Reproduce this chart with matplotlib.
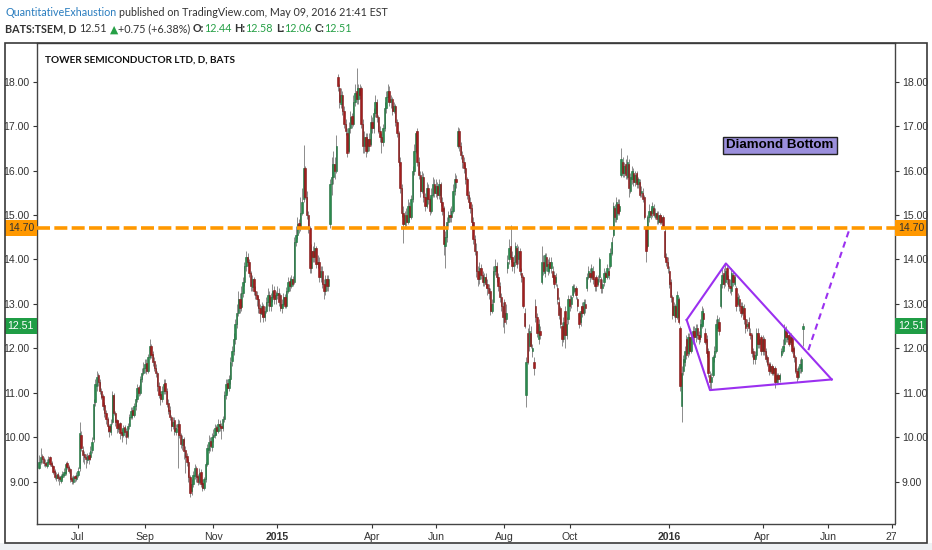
import matplotlib
matplotlib.use("Agg")
import matplotlib.pyplot as plt
import numpy as np
from matplotlib.patches import Rectangle
from matplotlib.transforms import blended_transform_factory

# BATS:TSEM daily candles, 27 May 2014 .. 09 May 2016 (one line per month)
opens = [
    9.30, 9.45, 9.58, 9.50,
    9.42, 9.36, 9.45, 9.55, 9.42, 9.35, 9.25, 9.08, 9.18, 9.10, 9.02, 9.10, 9.16, 9.20, 9.42, 9.34, 9.28, 9.08, 9.00, 9.12, 9.06,
    9.15, 9.30, 10.05, 9.72, 9.62, 9.55, 9.48, 9.60, 9.55, 9.72, 9.95, 10.80, 11.15, 11.40, 11.25, 11.05, 10.92, 10.72, 10.55, 10.40, 10.25, 10.12,
    10.35, 10.95, 10.55, 10.38, 10.18, 10.32, 10.12, 10.05, 10.22, 10.15, 10.02, 10.25, 10.45, 10.62, 10.50, 10.70, 10.85, 11.12, 11.00, 11.30, 11.45,
    11.55, 11.68, 11.50, 11.80, 12.05, 11.88, 11.72, 11.55, 11.45, 11.15, 10.98, 10.85, 11.05, 11.22, 11.05, 10.78, 10.62, 10.45, 10.25, 10.38, 10.12,
    10.22, 10.30, 10.05, 9.82, 9.95, 9.72, 9.58, 9.45, 9.10, 8.78, 8.95, 9.12, 9.30, 9.12, 9.00, 9.22, 8.98, 8.85, 9.05, 9.40, 9.72, 9.92, 9.78,
    10.00, 10.05, 10.22, 10.15, 10.30, 10.25, 10.20, 10.40, 10.95, 11.22, 11.10, 11.30, 11.72, 11.95, 12.20, 12.55, 12.80, 13.10, 12.92,
    13.25, 13.50, 13.85, 14.05, 13.95, 13.70, 13.38, 13.55, 13.30, 13.20, 13.10, 12.90, 12.78, 12.95, 12.70, 12.85, 13.05, 13.20, 12.95, 13.15, 13.32, 13.10,
    13.20, 13.25, 13.20, 12.90, 13.00, 13.15, 12.95, 13.30, 13.52, 13.40, 13.55, 13.50, 14.40, 14.55, 14.82, 14.70, 15.05, 15.35, 16.05, 15.40,
    15.00, 14.70, 13.80, 14.20, 14.05, 14.25, 13.90, 13.95, 13.60, 13.75, 13.45, 13.30, 13.55, 13.40, 14.80, 15.70, 15.85, 16.15, 16.00,
    18.10, 17.85, 17.50, 17.70, 17.35, 17.05, 16.85, 16.45, 16.95, 17.22, 17.05, 17.55, 17.78, 17.60, 17.85, 17.85, 17.05, 16.55, 16.75, 16.45, 16.72, 16.60,
    17.10, 16.95, 17.30, 17.55, 17.20, 16.90, 16.75, 16.65, 16.95, 17.40, 17.65, 17.80, 17.55, 17.60, 17.35, 17.45, 17.10, 16.85, 16.20, 15.60, 15.05,
    14.80, 15.00, 14.85, 15.20, 14.95, 15.35, 16.00, 16.45, 16.90, 16.20, 15.90, 15.55, 15.85, 15.40, 15.20, 15.60, 15.35, 15.10, 15.45, 15.70,
    15.50, 15.65, 15.45, 15.70, 15.30, 15.15, 14.30, 14.50, 14.85, 15.00, 14.95, 15.10, 15.55, 15.80, 16.55, 16.90, 16.55, 16.35, 16.20, 16.05, 15.80, 15.45,
    15.30, 15.15, 14.85, 14.45, 14.20, 13.75, 13.55, 13.80, 13.65, 13.50, 13.60, 13.45, 13.35, 13.30, 12.85, 13.05, 13.75, 13.85, 13.60, 13.40, 13.15, 12.95,
    13.05, 12.65, 13.80, 14.00, 14.30, 14.05, 13.85, 13.95, 14.25, 14.00, 14.20, 13.70, 13.60, 12.80, 10.95, 12.35, 12.05, 12.35, 11.95, 11.70, 12.95,
    12.70, 12.20, 12.40, 13.50, 13.95, 13.70, 14.05, 13.75, 13.95, 13.80, 13.75, 13.65, 13.50, 13.35, 13.05, 12.90, 12.50, 12.20, 12.85, 12.30, 12.65,
    13.10, 13.00, 13.20, 13.30, 13.35, 13.10, 12.80, 12.60, 12.95, 12.80, 13.00, 13.35, 13.60, 13.70, 13.60, 13.75, 13.55, 13.60, 13.45, 13.60, 13.55, 13.35,
    13.50, 13.70, 13.60, 13.75, 13.85, 14.15, 14.55, 15.15, 14.90, 15.25, 15.10, 15.90, 16.20, 15.95, 16.15, 15.85, 16.15, 15.55, 15.80, 15.95,
    15.75, 15.95, 15.70, 15.75, 15.50, 15.50, 15.40, 14.70, 14.30, 14.95, 15.10, 15.05, 15.15, 14.95, 15.05, 14.85, 15.00, 14.85, 14.95, 14.65, 14.05, 13.95,
    13.75, 13.50, 13.15, 12.75, 12.95, 12.70, 13.10, 12.45, 10.70, 11.50, 11.70, 12.20, 11.90, 12.25, 11.95, 12.20, 12.40, 12.25, 12.45,
    12.30, 12.25, 12.50, 12.80, 12.35, 12.20, 11.95, 11.40, 11.25, 11.40, 11.80, 11.95, 12.45, 12.60, 12.95, 13.45, 13.70, 13.50, 13.80, 13.55,
    13.40, 13.30, 13.65, 13.45, 13.35, 13.00, 13.10, 12.95, 12.80, 12.90, 12.65, 12.50, 12.60, 12.35, 12.30, 11.95, 11.75, 11.85, 12.35, 12.10, 12.25,
    11.95, 12.20, 11.95, 11.80, 11.65, 11.50, 11.60, 11.45, 11.55, 11.25, 11.40, 11.30, 11.85, 11.95, 12.10, 12.40, 12.20, 12.30, 12.15, 12.25, 12.00,
    11.80, 11.50, 11.35, 11.55, 11.50, 12.44,
]
highs = [
    9.60, 9.75, 9.62, 9.55,
    9.50, 9.50, 9.58, 9.58, 9.46, 9.38, 9.28, 9.22, 9.22, 9.14, 9.18, 9.24, 9.30, 9.45, 9.46, 9.38, 9.30, 9.12, 9.15, 9.16, 9.22,
    9.32, 10.35, 10.15, 9.80, 9.70, 9.62, 9.65, 9.66, 9.80, 10.00, 10.85, 11.30, 11.50, 11.45, 11.30, 11.10, 10.98, 10.80, 10.62, 10.45, 10.30, 10.40,
    11.05, 11.00, 10.60, 10.42, 10.38, 10.35, 10.18, 10.28, 10.28, 10.20, 10.32, 10.52, 10.68, 10.68, 10.78, 10.95, 11.20, 11.18, 11.38, 11.55, 11.70,
    11.75, 11.75, 11.88, 12.20, 12.10, 11.95, 11.80, 11.65, 11.50, 11.25, 11.05, 11.15, 11.32, 11.30, 11.10, 10.85, 10.70, 10.50, 10.45, 10.45, 10.30,
    10.40, 10.38, 10.10, 10.05, 10.00, 9.80, 9.65, 9.50, 9.15, 9.05, 9.25, 9.40, 9.35, 9.18, 9.30, 9.28, 9.05, 9.10, 9.45, 9.85, 10.05, 10.00, 10.10,
    10.18, 10.30, 10.28, 10.40, 10.38, 10.32, 10.48, 11.05, 11.30, 11.30, 11.40, 11.80, 12.05, 12.35, 12.65, 13.00, 13.30, 13.25, 13.40,
    13.60, 13.95, 14.20, 14.15, 14.00, 13.75, 13.65, 13.60, 13.40, 13.30, 13.18, 13.00, 13.05, 13.00, 12.95, 13.15, 13.35, 13.30, 13.25, 13.45, 13.40, 13.30,
    13.40, 13.35, 13.25, 13.12, 13.25, 13.22, 13.38, 13.60, 13.60, 13.65, 13.62, 14.50, 14.75, 14.95, 14.90, 15.40, 15.60, 16.57, 16.10, 15.55,
    15.10, 14.75, 14.35, 14.30, 14.40, 14.30, 14.10, 14.05, 13.85, 13.85, 13.55, 13.65, 13.65, 13.65, 15.80, 16.30, 16.45, 16.30, 16.80,
    18.17, 17.95, 17.85, 17.80, 17.45, 17.15, 16.95, 17.10, 17.35, 17.30, 17.70, 17.95, 18.30, 17.95, 17.95, 17.90, 17.15, 16.90, 16.85, 16.85, 16.85, 17.25,
    17.20, 17.40, 17.70, 17.60, 17.25, 17.00, 16.85, 17.05, 17.55, 17.80, 17.95, 17.90, 17.70, 17.65, 17.55, 17.50, 17.15, 16.90, 16.30, 15.70, 15.20,
    15.10, 15.15, 15.35, 15.30, 15.45, 16.10, 16.60, 16.90, 16.95, 16.30, 16.00, 16.00, 15.95, 15.50, 15.75, 15.70, 15.40, 15.60, 15.85, 15.80,
    15.80, 15.75, 15.80, 15.75, 15.40, 15.20, 14.65, 14.95, 15.10, 15.15, 15.20, 15.70, 15.95, 15.90, 16.97, 16.95, 16.65, 16.45, 16.30, 16.15, 15.85, 15.55,
    15.40, 15.25, 14.95, 14.55, 14.37, 13.85, 13.95, 13.90, 13.75, 13.70, 13.70, 13.55, 13.45, 13.35, 13.10, 13.85, 14.00, 13.95, 13.70, 13.50, 13.25, 13.05,
    13.10, 13.00, 14.10, 14.45, 14.78, 14.20, 14.10, 14.40, 14.35, 14.30, 14.25, 13.80, 13.65, 12.90, 11.80, 12.45, 12.55, 12.50, 12.10, 11.80, 13.10,
    12.80, 12.65, 12.50, 14.30, 14.10, 14.15, 14.15, 14.00, 14.05, 14.05, 13.85, 13.75, 13.70, 13.45, 13.15, 12.95, 12.60, 12.70, 12.95, 12.70, 13.20,
    13.20, 13.20, 13.45, 13.45, 13.40, 13.15, 12.85, 12.95, 13.05, 13.10, 13.10, 13.70, 13.85, 13.80, 13.90, 13.85, 13.60, 13.65, 13.65, 14.05, 13.60, 13.55,
    13.80, 13.75, 13.90, 13.85, 14.25, 14.50, 15.30, 15.25, 15.40, 15.35, 15.35, 16.50, 16.30, 16.20, 16.25, 16.35, 16.25, 15.95, 16.10, 16.05,
    16.00, 16.00, 15.85, 15.80, 15.65, 15.60, 15.45, 14.75, 15.00, 15.25, 15.15, 15.30, 15.25, 15.15, 15.10, 15.10, 15.05, 15.00, 15.00, 14.70, 14.15, 14.05,
    13.85, 13.55, 13.20, 13.05, 13.00, 13.30, 13.15, 12.50, 11.60, 11.85, 12.05, 12.30, 12.35, 12.35, 12.35, 12.50, 12.50, 12.55, 12.55,
    12.40, 12.65, 12.95, 12.90, 12.45, 12.30, 12.00, 11.50, 11.45, 11.85, 12.05, 12.65, 12.75, 12.70, 13.55, 13.80, 13.80, 13.92, 13.85, 13.65,
    13.55, 13.80, 13.75, 13.70, 13.40, 13.25, 13.20, 13.05, 13.05, 13.00, 12.75, 12.65, 12.70, 12.45, 12.35, 12.00, 11.95, 12.45, 12.45, 12.30, 12.30,
    12.30, 12.25, 12.00, 11.85, 11.70, 11.70, 11.65, 11.60, 11.60, 11.45, 11.45, 11.45, 12.00, 12.20, 12.55, 12.50, 12.40, 12.35, 12.35, 12.30, 12.05,
    11.85, 11.55, 11.60, 11.75, 11.80, 12.58,
]
lows = [
    9.28, 9.40, 9.42, 9.35,
    9.32, 9.30, 9.40, 9.36, 9.30, 9.18, 9.05, 9.02, 9.02, 8.92, 8.98, 9.05, 9.10, 9.15, 9.28, 9.20, 9.00, 8.95, 8.95, 9.00, 9.02,
    9.10, 9.25, 9.70, 9.45, 9.40, 9.30, 9.42, 9.40, 9.48, 9.65, 9.90, 10.70, 11.05, 11.15, 10.98, 10.85, 10.62, 10.45, 10.30, 10.12, 10.00, 10.05,
    10.30, 10.50, 10.25, 10.10, 10.12, 9.95, 9.90, 10.00, 10.00, 9.85, 9.98, 10.18, 10.40, 10.40, 10.45, 10.62, 10.80, 10.92, 10.95, 11.25, 11.40,
    11.45, 11.42, 11.45, 11.75, 11.78, 11.60, 11.48, 11.35, 11.05, 10.88, 10.72, 10.80, 10.98, 10.98, 10.68, 10.52, 10.38, 10.15, 10.18, 10.05, 10.05,
    9.30, 9.98, 9.75, 9.72, 9.50, 9.20, 9.35, 9.00, 8.65, 8.70, 8.88, 9.05, 9.00, 8.92, 8.95, 8.88, 8.80, 8.82, 9.00, 9.35, 9.65, 9.70, 9.70,
    9.90, 9.98, 10.05, 10.10, 10.15, 9.95, 10.15, 10.35, 10.85, 11.00, 11.05, 11.20, 11.60, 11.85, 12.10, 12.45, 12.72, 12.80, 12.85,
    13.15, 13.40, 13.75, 13.85, 13.60, 13.30, 13.30, 13.20, 13.10, 12.95, 12.80, 12.60, 12.70, 12.60, 12.62, 12.80, 12.95, 12.85, 12.85, 13.05, 13.00, 13.00,
    13.10, 12.95, 12.85, 12.80, 12.95, 12.90, 12.90, 13.25, 13.30, 13.35, 13.40, 13.45, 14.30, 14.45, 14.60, 14.65, 15.00, 15.30, 15.35, 14.90,
    14.60, 13.70, 13.70, 13.95, 13.95, 13.80, 13.80, 13.50, 13.50, 13.35, 13.10, 13.20, 13.30, 13.30, 14.70, 15.45, 15.70, 15.80, 15.95,
    17.80, 17.40, 17.40, 17.25, 16.95, 16.80, 16.30, 16.40, 16.85, 16.95, 17.00, 17.45, 17.50, 17.50, 17.60, 16.95, 16.40, 16.40, 16.30, 16.40, 16.45, 16.55,
    16.85, 16.85, 17.20, 17.10, 16.85, 16.65, 16.40, 16.55, 16.90, 17.30, 17.55, 17.45, 17.40, 17.25, 17.30, 17.00, 16.75, 16.10, 15.50, 14.95, 14.37,
    14.70, 14.75, 14.80, 14.85, 14.90, 15.30, 15.90, 16.40, 16.10, 15.80, 15.40, 15.50, 15.30, 15.10, 15.15, 15.25, 15.00, 15.05, 15.40, 15.40,
    15.40, 15.35, 15.35, 15.20, 15.00, 14.10, 13.80, 14.40, 14.75, 14.85, 14.85, 15.05, 15.45, 15.60, 16.50, 16.45, 16.25, 16.05, 15.95, 15.70, 15.35, 15.15,
    15.05, 14.75, 14.35, 14.10, 13.60, 13.40, 13.45, 13.55, 13.40, 13.40, 13.35, 13.20, 13.10, 12.75, 12.80, 13.00, 13.65, 13.50, 13.30, 13.05, 12.85, 12.48,
    12.35, 12.55, 13.70, 13.90, 13.95, 13.75, 13.70, 13.85, 13.80, 13.90, 13.65, 13.50, 12.90, 12.45, 10.68, 11.65, 11.95, 12.00, 11.80, 11.40, 12.60,
    12.25, 12.10, 12.20, 13.45, 13.65, 13.60, 13.75, 13.65, 13.70, 13.70, 13.50, 13.35, 13.40, 13.00, 12.65, 12.45, 12.05, 12.15, 12.00, 12.20, 12.55,
    12.85, 12.90, 13.15, 13.25, 13.10, 12.85, 12.45, 12.50, 12.70, 12.75, 12.80, 13.30, 13.55, 13.50, 13.55, 13.45, 13.30, 13.30, 13.40, 13.50, 13.25, 13.25,
    13.40, 13.55, 13.55, 13.55, 13.80, 14.10, 14.50, 14.85, 14.85, 15.00, 15.00, 15.85, 15.85, 15.85, 15.80, 15.80, 15.40, 15.50, 15.70, 15.65,
    15.65, 15.60, 15.60, 15.40, 15.40, 15.30, 14.90, 13.95, 14.25, 14.85, 14.90, 14.95, 14.95, 14.90, 14.80, 14.80, 14.80, 14.80, 14.70, 14.00, 13.85, 13.70,
    13.35, 13.05, 12.65, 12.70, 12.60, 12.65, 12.55, 11.05, 10.35, 11.40, 11.60, 11.75, 11.80, 11.85, 11.90, 12.10, 12.15, 12.15, 12.20,
    12.10, 12.15, 12.45, 12.55, 12.10, 11.80, 11.35, 11.10, 11.08, 11.35, 11.70, 11.90, 12.40, 12.30, 12.90, 13.35, 13.35, 13.40, 13.45, 13.30,
    13.25, 13.20, 13.40, 13.40, 12.85, 12.95, 12.85, 12.70, 12.75, 12.55, 12.35, 12.40, 12.35, 12.20, 11.80, 11.65, 11.65, 11.80, 12.00, 12.00, 11.85,
    11.85, 11.85, 11.70, 11.60, 11.40, 11.45, 11.40, 11.40, 11.10, 11.20, 11.20, 11.25, 11.80, 11.90, 12.00, 12.15, 12.15, 12.05, 12.05, 11.90, 11.70,
    11.45, 11.25, 11.30, 11.45, 11.45, 12.06,
]
closes = [
    9.45, 9.55, 9.50, 9.42,
    9.38, 9.45, 9.52, 9.40, 9.35, 9.22, 9.10, 9.15, 9.08, 9.05, 9.12, 9.18, 9.22, 9.40, 9.32, 9.25, 9.05, 9.02, 9.10, 9.08, 9.15,
    9.25, 10.10, 9.75, 9.60, 9.55, 9.50, 9.58, 9.52, 9.70, 9.90, 10.75, 11.20, 11.35, 11.25, 11.05, 10.90, 10.70, 10.55, 10.40, 10.25, 10.15, 10.30,
    10.95, 10.55, 10.35, 10.20, 10.30, 10.10, 10.05, 10.20, 10.12, 10.00, 10.25, 10.45, 10.60, 10.50, 10.70, 10.85, 11.10, 11.00, 11.30, 11.45, 11.55,
    11.65, 11.50, 11.80, 12.05, 11.85, 11.70, 11.55, 11.45, 11.15, 10.95, 10.85, 11.05, 11.20, 11.05, 10.75, 10.60, 10.45, 10.25, 10.35, 10.15, 10.20,
    10.30, 10.05, 9.85, 9.95, 9.70, 9.55, 9.45, 9.10, 8.75, 8.95, 9.15, 9.30, 9.10, 9.00, 9.20, 8.95, 8.85, 9.05, 9.40, 9.75, 9.90, 9.80, 10.00,
    10.05, 10.20, 10.15, 10.30, 10.25, 10.20, 10.40, 10.95, 11.20, 11.10, 11.30, 11.70, 11.95, 12.20, 12.55, 12.80, 13.10, 12.90, 13.25,
    13.50, 13.85, 14.05, 13.95, 13.70, 13.40, 13.55, 13.30, 13.20, 13.10, 12.90, 12.80, 12.95, 12.70, 12.85, 13.05, 13.20, 12.95, 13.15, 13.30, 13.10, 13.20,
    13.25, 13.05, 12.90, 13.00, 13.15, 12.95, 13.30, 13.50, 13.40, 13.55, 13.45, 14.40, 14.55, 14.80, 14.70, 15.05, 15.30, 16.05, 15.40, 15.00,
    14.75, 13.80, 14.20, 14.05, 14.25, 13.90, 13.95, 13.60, 13.75, 13.45, 13.30, 13.55, 13.40, 13.55, 15.70, 15.85, 16.15, 16.00, 16.55,
    17.90, 17.55, 17.70, 17.35, 17.05, 16.90, 16.40, 16.95, 17.20, 17.05, 17.55, 17.75, 17.60, 17.85, 17.70, 17.05, 16.55, 16.75, 16.45, 16.70, 16.55, 17.10,
    16.95, 17.30, 17.55, 17.20, 16.90, 16.75, 16.65, 16.95, 17.40, 17.65, 17.80, 17.55, 17.60, 17.35, 17.45, 17.10, 16.85, 16.20, 15.60, 15.05, 14.80,
    15.00, 14.85, 15.20, 14.95, 15.35, 16.00, 16.45, 16.85, 16.20, 15.90, 15.55, 15.85, 15.40, 15.20, 15.60, 15.35, 15.10, 15.45, 15.70, 15.50,
    15.65, 15.45, 15.70, 15.30, 15.10, 14.35, 14.50, 14.85, 15.00, 14.95, 15.10, 15.55, 15.80, 15.75, 16.90, 16.55, 16.35, 16.20, 16.05, 15.80, 15.45, 15.30,
    15.15, 14.85, 14.45, 14.20, 13.75, 13.55, 13.80, 13.65, 13.50, 13.60, 13.45, 13.35, 13.25, 12.85, 13.00, 13.75, 13.85, 13.60, 13.40, 13.15, 12.95, 12.70,
    12.60, 12.80, 13.95, 14.25, 14.05, 13.85, 13.95, 14.30, 13.90, 14.20, 13.75, 13.60, 12.95, 12.50, 11.70, 11.70, 12.40, 12.05, 12.00, 11.55, 12.70,
    12.35, 12.55, 12.30, 13.95, 13.75, 14.10, 13.85, 13.90, 13.80, 13.95, 13.60, 13.45, 13.60, 13.10, 12.75, 12.55, 12.20, 12.60, 12.30, 12.55, 13.10,
    12.95, 13.15, 13.40, 13.35, 13.20, 12.95, 12.55, 12.85, 12.80, 13.05, 12.90, 13.60, 13.75, 13.60, 13.80, 13.55, 13.40, 13.40, 13.55, 14.00, 13.35, 13.45,
    13.70, 13.60, 13.80, 13.65, 14.15, 14.40, 15.20, 14.95, 15.30, 15.05, 15.20, 16.25, 15.95, 16.10, 15.90, 16.20, 15.60, 15.85, 16.00, 15.75,
    15.90, 15.70, 15.80, 15.45, 15.55, 15.35, 14.95, 14.20, 14.95, 15.10, 15.00, 15.20, 15.00, 15.05, 14.90, 15.00, 14.85, 14.95, 14.75, 14.05, 13.95, 13.80,
    13.45, 13.15, 12.75, 12.95, 12.70, 13.20, 12.60, 11.15, 11.45, 11.75, 11.95, 11.85, 12.25, 11.95, 12.25, 12.40, 12.25, 12.45, 12.30,
    12.20, 12.55, 12.85, 12.65, 12.15, 11.90, 11.45, 11.25, 11.35, 11.80, 11.95, 12.55, 12.65, 12.40, 13.45, 13.65, 13.45, 13.75, 13.55, 13.40,
    13.35, 13.70, 13.50, 13.60, 12.95, 13.15, 12.95, 12.80, 12.95, 12.65, 12.45, 12.55, 12.45, 12.30, 11.90, 11.75, 11.85, 12.35, 12.10, 12.20, 11.95,
    12.20, 11.95, 11.75, 11.65, 11.50, 11.60, 11.45, 11.55, 11.25, 11.40, 11.30, 11.40, 11.95, 12.05, 12.45, 12.25, 12.30, 12.10, 12.25, 11.95, 11.80,
    11.50, 11.35, 11.55, 11.65, 11.76, 12.51,
]

# x axis: bar index of the first session of each labelled month
tick_pos = [25, 68, 112, 153, 214, 255, 299, 341, 405, 465, 507, 548]
tick_labels = ["Jul", "Sep", "Nov", "2015", "Apr", "Jun", "Aug", "Oct", "2016", "Apr", "Jun", "27"]
price_ticks = [9, 10, 11, 12, 13, 14, 15, 16, 17, 18]

resistance = 14.70
last_price = 12.51

# drawn pattern: left, top, right, bottom corners (bar index, price)
diamond_x = [416.2, 441.4, 509.4, 431.2]
diamond_y = [12.64, 13.91, 11.30, 11.06]
target_x = [494.4, 521.2]
target_y = [11.96, 14.72]

W, H = 932, 550
TICK_FONT = ["Liberation Sans", "DejaVu Sans"]
HEAD_FONT = ["Lato", "DejaVu Sans"]
DARK = "#333333"
UP, UP_EDGE = "#2b8a4e", "#1e6b3a"
DN, DN_EDGE = "#a31e1e", "#7a1515"
PURPLE = "#9b30f0"

o = np.array(opens)
h = np.array(highs)
l = np.array(lows)
c = np.array(closes)
assert len(o) == len(h) == len(l) == len(c)
x = np.arange(len(c))

fig = plt.figure(figsize=(W / 100, H / 100), dpi=100)
fig.patch.set_facecolor("white")
ax = fig.add_axes([36.7 / W, 26 / H, (895 - 36.7) / W, (524 - 43) / H])
ax.set_xlim(-1.54, 550.1)
ax.set_ylim(8.047, 18.871)

# candles
up = c >= o
body = np.maximum(np.abs(c - o), 0.04)
ax.vlines(x, l, h, color="#8c8c8c", lw=0.7, zorder=2)
ax.bar(x[up], body[up], bottom=o[up], width=0.9, color=UP, edgecolor=UP_EDGE, lw=0.4, zorder=3)
ax.bar(x[~up], body[~up], bottom=c[~up], width=0.9, color=DN, edgecolor=DN_EDGE, lw=0.4, zorder=3)

# resistance line
ax.axhline(resistance, color="#ff9800", lw=2.6, dashes=(3.6, 1.2), dash_capstyle="butt", zorder=4)

# diamond and projected breakout
ax.plot([diamond_x[0], diamond_x[1], diamond_x[2]], [diamond_y[0], diamond_y[1], diamond_y[2]],
        color=PURPLE, lw=1.5, zorder=5)
ax.plot([diamond_x[0], diamond_x[3], diamond_x[2]], [diamond_y[0], diamond_y[3], diamond_y[2]],
        color=PURPLE, lw=1.5, zorder=5)
ax.plot(target_x, target_y, color=PURPLE, lw=1.5, dashes=(3, 2.2), zorder=5)

# axes styling
for side in ["left", "right", "bottom", "top"]:
    ax.spines[side].set_color("#444444")
    ax.spines[side].set_linewidth(1.0)
ax.set_yticks(price_ticks)
ax.set_yticklabels([f"{p:.2f}" for p in price_ticks])
ax.tick_params(axis="y", left=True, right=True, labelleft=True, labelright=True,
               direction="out", length=3, width=0.8, pad=2, labelsize=7.6, colors=DARK)
ax.set_xticks(tick_pos)
ax.set_xticklabels(tick_labels)
ax.tick_params(axis="x", direction="out", length=3, width=0.8, pad=3, labelsize=7.6, colors=DARK)
for lbl in ax.get_yticklabels() + ax.get_xticklabels():
    lbl.set_family(TICK_FONT)
for lbl in ax.get_xticklabels():
    if lbl.get_text() in ("2015", "2016"):
        lbl.set_fontweight("bold")

# price tags on both scales
bt = blended_transform_factory(ax.transAxes, ax.transData)
axw = 895 - 36.7
def price_tag(p, face, txt):
    hh = 16 / 44.44
    for x0, w in [(-31.7 / axw, 31.7 / axw), (1.0, 32.0 / axw)]:
        ax.add_patch(Rectangle((x0, p - hh / 2), w, hh, transform=bt, facecolor=face,
                               edgecolor="none", clip_on=False, zorder=6))
        ax.text(x0 + w / 2, p, f"{p:.2f}", transform=bt, ha="center", va="center",
                fontsize=7.6, color=txt, family=TICK_FONT, clip_on=False, zorder=7)
price_tag(resistance, "#ff9800", DARK)
price_tag(last_price, "#1f9d45", "white")

# outer frame, bottom strip, and a mask that cuts the last date label at the scale edge
fig.patches.append(Rectangle((0, 0), 1, 7 / H, transform=fig.transFigure,
                             facecolor="#eef1f4", edgecolor="none", zorder=0))
fig.patches.append(Rectangle((895.6 / W, 8 / H), 31 / W, 18 / H, transform=fig.transFigure,
                             facecolor="white", edgecolor="none", zorder=9))
fig.patches.append(Rectangle((5 / W, 7 / H), 922 / W, 500 / H, transform=fig.transFigure,
                             fill=False, edgecolor="#3a3a3a", lw=1.2, zorder=10))

# pattern label
fig.text(780 / W, 1 - 145.5 / H, "Diamond Bottom", ha="center", va="center", fontsize=9.6,
         fontweight="bold", family=["Liberation Sans", "DejaVu Sans"], color="black",
         bbox=dict(boxstyle="square,pad=0.22", fc="#9b8fdc", ec="#222222", lw=1))

# header texts, fitted to the widths seen in the reference
fig.canvas.draw()
renderer = fig.canvas.get_renderer()

def run_text(x_px, y_px, parts, size, target):
    def place(sz):
        probe = fig.text(0, 0, "x x", fontsize=sz, family=HEAD_FONT)
        probe2 = fig.text(0, 0, "xx", fontsize=sz, family=HEAD_FONT)
        gap = probe.get_window_extent(renderer).width - probe2.get_window_extent(renderer).width
        probe.remove()
        probe2.remove()
        arts = []
        xx = x_px
        for s, col, wt, space in parts:
            t = fig.text(xx / W, 1 - y_px / H, s, color=col, fontweight=wt, fontsize=sz,
                         family=HEAD_FONT, va="center", ha="left")
            xx += t.get_window_extent(renderer).width + (gap if space else 0)
            arts.append(t)
        return arts, xx - x_px
    arts, w = place(size)
    for a in arts:
        a.remove()
    place(size * target / w)

GREEN = "#26a046"
run_text(5, 12, [("QuantitativeExhaustion", "#2a7dbf", "normal", True),
                 ("published on TradingView.com, May 09, 2016 21:41 EST", DARK, "normal", False)],
         9.0, 385)
run_text(5, 29, [("BATS:TSEM, D", DARK, "bold", True), ("12.51", DARK, "normal", True),
                 ("\u25b2", GREEN, "normal", False), ("+0.75 (+6.38%)", DARK, "normal", True),
                 ("O:", DARK, "bold", False), ("12.44", GREEN, "normal", True),
                 ("H:", DARK, "bold", False), ("12.58", GREEN, "normal", True),
                 ("L:", DARK, "bold", False), ("12.06", GREEN, "normal", True),
                 ("C:", DARK, "bold", False), ("12.51", GREEN, "normal", False)],
         8.5, 345)
run_text(45, 60, [("TOWER SEMICONDUCTOR LTD, D, BATS", "#111111", "bold", False)], 8.0, 191)

fig.savefig("out.png", dpi=100, facecolor=fig.get_facecolor())
